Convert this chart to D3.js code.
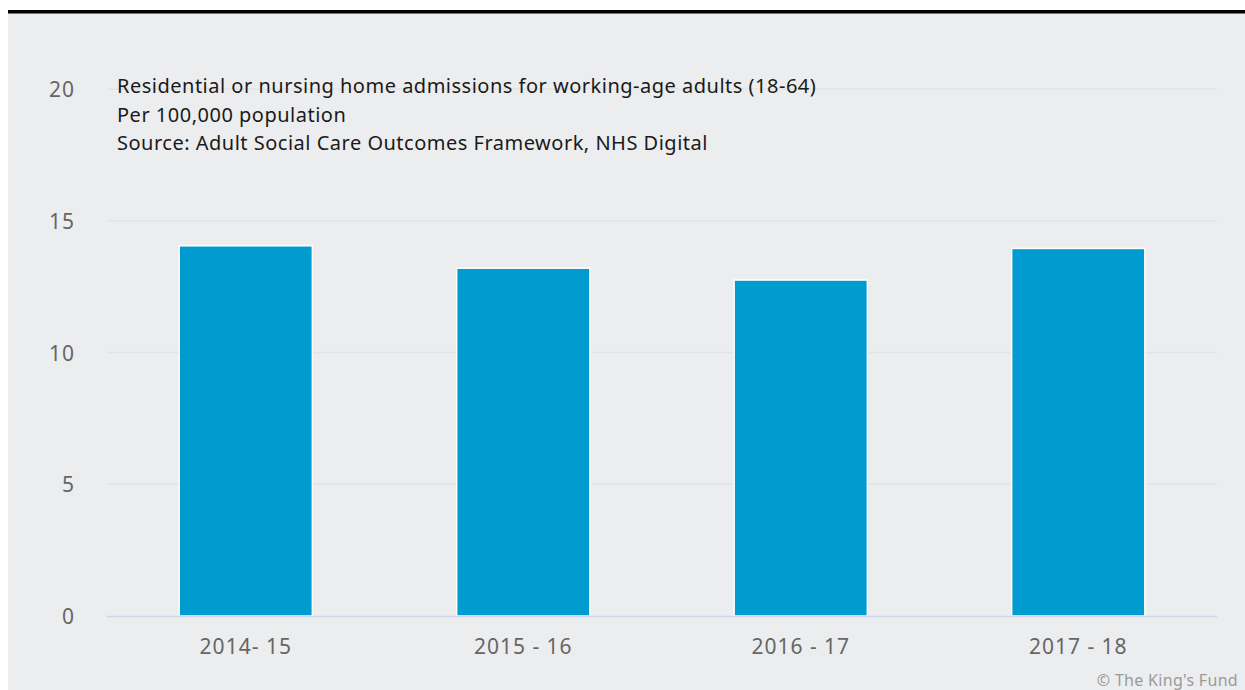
<!DOCTYPE html>
<html>
<head>
<meta charset="utf-8">
<script src="https://cdn.jsdelivr.net/npm/d3@7"></script>
<style>
  html, body { margin: 0; padding: 0; background: #ffffff; }
  svg { display: block; }
  text { font-family: "Noto Sans", "Open Sans", sans-serif; }
</style>
</head>
<body>
<svg id="chart" width="1245" height="690"></svg>
<script>
// Residential or nursing home admissions, working-age adults, per 100,000
const categories = ["2014- 15", "2015 - 16", "2016 - 17", "2017 - 18"];
const admissions = [14.05, 13.2, 12.75, 13.95];
const yTicks = [0, 5, 10, 15, 20];
const titleLines = [
  "Residential or nursing home admissions for working-age adults (18-64)",
  "Per 100,000 population",
  "Source: Adult Social Care Outcomes Framework, NHS Digital"
];
const credit = "\u00A9 The King's Fund";

const svg = d3.select("#chart");

// panel and top rule
svg.append("rect").attr("x", 8).attr("y", 12).attr("width", 1237).attr("height", 678).attr("fill", "#ecedef");
svg.append("rect").attr("x", 8).attr("y", 10).attr("width", 1237).attr("height", 3.5).attr("fill", "#000000");

const plot = { left: 107, right: 1217, top: 89, bottom: 616 };

const x = d3.scaleBand().domain(categories).range([plot.left, plot.right]).paddingInner(0.52).paddingOuter(0.26);
const y = d3.scaleLinear().domain([0, 20]).range([plot.bottom, plot.top]);

// gridlines
svg.append("g").selectAll("line").data(yTicks.filter(d => d > 0)).join("line")
  .attr("x1", plot.left).attr("x2", plot.right)
  .attr("y1", d => y(d)).attr("y2", d => y(d))
  .attr("stroke", "#e2e3e5").attr("stroke-width", 1.5);

// y axis labels
const yAxis = d3.axisLeft(y).tickValues(yTicks).tickSize(0).tickPadding(0);
const gy = svg.append("g").attr("transform", "translate(75,0)").call(yAxis);
gy.select(".domain").remove();
gy.selectAll("text").attr("font-size", 21).attr("fill", "#666666")
  .attr("letter-spacing", 1)
  .attr("font-family", "'Noto Sans', sans-serif").attr("dy", "0.36em");

// bars
svg.append("g").selectAll("rect").data(admissions).join("rect")
  .attr("x", (d, i) => x(categories[i]))
  .attr("y", d => y(d))
  .attr("width", x.bandwidth())
  .attr("height", d => y(0) - y(d))
  .attr("fill", "#009ccf")
  .attr("stroke", "#ffffff").attr("stroke-width", 1.5);

// baseline
svg.append("line").attr("x1", plot.left).attr("x2", plot.right)
  .attr("y1", y(0) + 0.5).attr("y2", y(0) + 0.5)
  .attr("stroke", "#ccd6eb").attr("stroke-width", 1.5);

// x axis labels
const xAxis = d3.axisBottom(x).tickSize(0).tickPadding(0);
const gx = svg.append("g").attr("transform", "translate(0,647)").call(xAxis);
gx.select(".domain").remove();
gx.selectAll("text").attr("font-size", 21).attr("fill", "#666666")
  .attr("letter-spacing", 1)
  .attr("font-family", "'Noto Sans', sans-serif").attr("dy", "0.35em");

// title block
svg.append("g").selectAll("text").data(titleLines).join("text")
  .attr("x", 117).attr("y", (d, i) => 93 + i * 28.7)
  .attr("font-size", 20).attr("letter-spacing", 0.5).attr("fill", "#1a1a1a")
  .text(d => d);

// credit
svg.append("text").attr("x", 1238).attr("y", 686).attr("text-anchor", "end")
  .attr("font-size", 16).attr("letter-spacing", 0.3).attr("fill", "#9a9a9a").text(credit);
</script>
</body>
</html>
